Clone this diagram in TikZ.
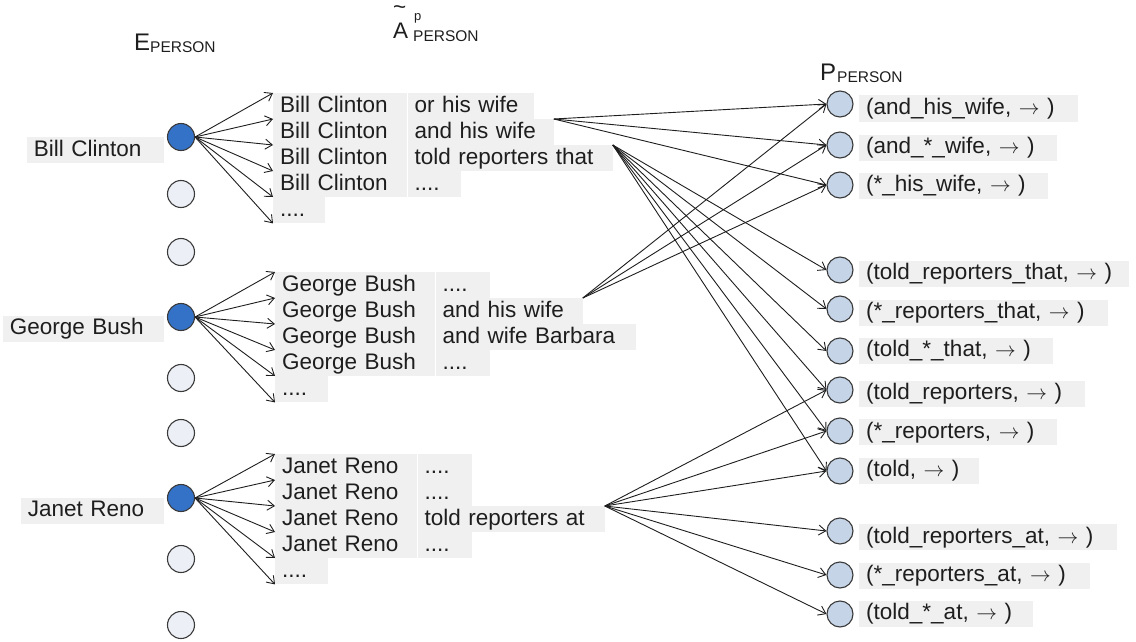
\documentclass[tikz,border=0pt]{standalone}
\usepackage{fontspec}
\setmainfont{Liberation Sans}
\usetikzlibrary{arrows.meta}
\definecolor{cellgray}{HTML}{EFF0EF}
\definecolor{ink}{HTML}{1E1E1E}
\definecolor{entblue}{HTML}{3472C8}
\definecolor{entpale}{HTML}{ECEFF5}
\definecolor{patfill}{HTML}{C6D4E7}
\definecolor{rim}{HTML}{3A3A3A}
\newcommand{\ra}{$\rightarrow$}
\begin{document}
\begin{tikzpicture}[x=1pt,y=-1pt,
  font=\fontsize{22.5pt}{26pt}\selectfont, text=ink,
  head/.style={inner sep=0pt},
  sub/.style={inner sep=0pt, font=\fontsize{15.5pt}{16pt}\selectfont},
  supr/.style={inner sep=0pt, font=\fontsize{13pt}{14pt}\selectfont},
  tag/.style={fill=cellgray, inner xsep=7pt, inner ysep=2pt,
    text height=17pt, text depth=5pt, align=left},
  cell/.style={tag, anchor=north west},
  plab/.style={tag, anchor=west},
  ent/.style={circle, draw=rim, line width=1.1pt, minimum size=27pt, inner sep=0pt},
  entA/.style={ent, fill=entblue},
  entB/.style={ent, fill=entpale},
  pat/.style={circle, draw=rim, line width=1.1pt, fill=patfill, minimum size=26pt, inner sep=0pt},
  link/.style={draw=ink, line width=0.9pt,
    -{Straight Barb[length=7pt,width=10pt,line width=0.9pt]}}
]
\useasboundingbox (0,0) rectangle (1136,642);

% column headings
\node[head, anchor=base west, font=\fontsize{24pt}{26pt}\selectfont] (hE) at (134,51) {E};
\node[sub, anchor=base west] (hEs) at (150,53) {PERSON};
\node[head, anchor=base west] (hA) at (393,39) {\rlap{\raisebox{24pt}[0pt][0pt]{\textasciitilde}}A};
\node[supr, anchor=base west] (hAp) at (414,21) {p};
\node[sub, anchor=base west] (hAs) at (413,42) {PERSON};
\node[head, anchor=base west, font=\fontsize{24pt}{26pt}\selectfont] (hP) at (820,81) {P};
\node[sub, anchor=base west] (hPs) at (837,83) {PERSON};

% entity names
\node[tag, anchor=east, text width=123pt] (lB) at (164,150) {Bill Clinton};
\node[tag, anchor=east, text width=147pt] (lG) at (164,328.5) {George Bush};
\node[tag, anchor=east, text width=129pt] (lJ) at (164,510.5) {Janet Reno};

% entity nodes
\node[entA] (eB) at (181,137) {};
\node[entB] (e1) at (181,194) {};
\node[entB] (e2) at (181,252) {};
\node[entA] (eG) at (181,317) {};
\node[entB] (e3) at (181,378) {};
\node[entB] (e4) at (181,433) {};
\node[entA] (eJ) at (181,498) {};
\node[entB] (e5) at (181,559) {};
\node[entB] (e6) at (181,625) {};

% contexts of Bill Clinton
\node[cell, text width=120pt] (b1) at (273,93) {Bill Clinton};
\node[cell, text width=112pt] (b1x) at (b1.north east) {or his wife};
\node[cell, text width=120pt] (b2) at (273,119) {Bill Clinton};
\node[cell, text width=132pt] (b2x) at (b2.north east) {and his wife};
\node[cell, text width=120pt] (b3) at (273,145) {Bill Clinton};
\node[cell, text width=191pt] (b3x) at (b3.north east) {told reporters that};
\node[cell, text width=120pt] (b4) at (273,171) {Bill Clinton};
\node[cell, text width=39pt] (b4x) at (b4.north east) {....};
\node[cell, text width=38pt] (b5) at (273,197) {....};

% contexts of George Bush
\node[cell, text width=146pt] (g1) at (275,272) {George Bush};
\node[cell, text width=40pt] (g1x) at (g1.north east) {....};
\node[cell, text width=146pt] (g2) at (275,298) {George Bush};
\node[cell, text width=133pt] (g2x) at (g2.north east) {and his wife};
\node[cell, text width=146pt] (g3) at (275,324) {George Bush};
\node[cell, text width=186pt] (g3x) at (g3.north east) {and wife Barbara};
\node[cell, text width=146pt] (g4) at (275,350) {George Bush};
\node[cell, text width=40pt] (g4x) at (g4.north east) {....};
\node[cell, text width=39pt] (g5) at (275,376) {....};

% contexts of Janet Reno
\node[cell, text width=128pt] (j1) at (275,454) {Janet Reno};
\node[cell, text width=40pt] (j1x) at (j1.north east) {....};
\node[cell, text width=128pt] (j2) at (275,480) {Janet Reno};
\node[cell, text width=40pt] (j2x) at (j2.north east) {....};
\node[cell, text width=128pt] (j3) at (275,506) {Janet Reno};
\node[cell, text width=173pt] (j3x) at (j3.north east) {told reporters at};
\node[cell, text width=128pt] (j4) at (275,532) {Janet Reno};
\node[cell, text width=40pt] (j4x) at (j4.north east) {....};
\node[cell, text width=39pt] (j5) at (275,558) {....};

% pattern nodes
\node[pat] (p1) at (840,104) {};
\node[pat] (p2) at (840,145) {};
\node[pat] (p3) at (840,185) {};
\node[pat] (p4) at (840,270) {};
\node[pat] (p5) at (840,309) {};
\node[pat] (p6) at (840,351) {};
\node[pat] (p7) at (840,390) {};
\node[pat] (p8) at (840,431) {};
\node[pat] (p9) at (840,471) {};
\node[pat] (p10) at (840,531) {};
\node[pat] (p11) at (840,575) {};
\node[pat] (p12) at (840,614) {};

% pattern labels
\node[plab, text width=205pt] (q1) at (859,108.5) {(and\_his\_wife, \ra{} )};
\node[plab, text width=184pt] (q2) at (859,147.5) {(and\_*\_wife, \ra{} )};
\node[plab, text width=175pt] (q3) at (859,185.5) {(*\_his\_wife, \ra{} )};
\node[plab, text width=256pt] (q4) at (859,273.5) {(told\_reporters\_that, \ra{} )};
\node[plab, text width=235pt] (q5) at (859,312.5) {(*\_reporters\_that, \ra{} )};
\node[plab, text width=180pt] (q6) at (859,350.5) {(told\_*\_that, \ra{} )};
\node[plab, text width=212pt] (q7) at (859,393.5) {(told\_reporters, \ra{} )};
\node[plab, text width=184pt] (q8) at (859,432) {(*\_reporters, \ra{} )};
\node[plab, text width=106pt] (q9) at (859,470.5) {(told, \ra{} )};
\node[plab, text width=244pt] (q10) at (859,537) {(told\_reporters\_at, \ra{} )};
\node[plab, text width=217pt] (q11) at (859,575.5) {(*\_reporters\_at, \ra{} )};
\node[plab, text width=160pt] (q12) at (859,613.5) {(told\_*\_at, \ra{} )};

% entity to context fans
\foreach \e/\r in {eB/b, eG/g, eJ/j} {
  \foreach \k in {1,...,5} \draw[link] (\e.east) -- (\r\k.north west);
  \draw[link] (\e.east) -- (\r5.south west);
}

% context to pattern links
\foreach \k in {1,2,3} {
  \draw[link] (b2x.north east) -- (p\k.west);
  \draw[link] (g2x.north east) -- (p\k.west);
}
\foreach \k in {4,...,9} \draw[link] (b3x.north east) -- (p\k.west);
\foreach \k in {7,...,12} \draw[link] (j3x.north east) -- (p\k.west);
\end{tikzpicture}
\end{document}
